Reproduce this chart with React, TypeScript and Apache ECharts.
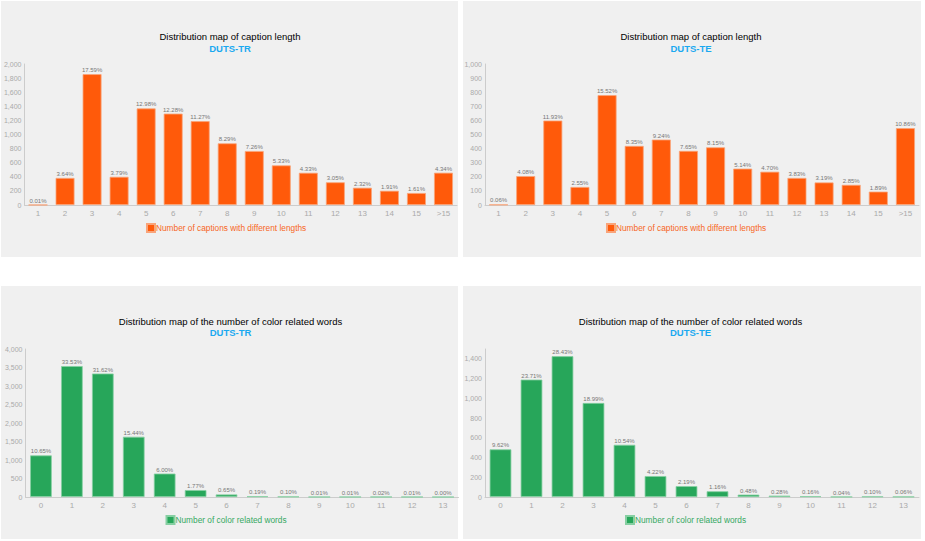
import React, { useEffect, useRef } from "react";
import * as echarts from "echarts";

const lengthCats = ["1", "2", "3", "4", "5", "6", "7", "8", "9", "10", "11", "12", "13", "14", "15", ">15"];
const lenTR = [1, 384, 1856, 400, 1370, 1296, 1189, 875, 766, 562, 457, 322, 245, 202, 170, 458];
const lenTRPct = ["0.01%", "3.64%", "17.59%", "3.79%", "12.98%", "12.28%", "11.27%", "8.29%", "7.26%", "5.33%", "4.33%", "3.05%", "2.32%", "1.91%", "1.61%", "4.34%"];
const lenTE = [3, 205, 599, 128, 779, 419, 464, 384, 409, 258, 236, 192, 160, 143, 95, 545];
const lenTEPct = ["0.06%", "4.08%", "11.93%", "2.55%", "15.52%", "8.35%", "9.24%", "7.65%", "8.15%", "5.14%", "4.70%", "3.83%", "3.19%", "2.85%", "1.89%", "10.86%"];

const colorCats = ["0", "1", "2", "3", "4", "5", "6", "7", "8", "9", "10", "11", "12", "13"];
const colTR = [1124, 3538, 3337, 1629, 633, 187, 69, 20, 11, 1, 1, 2, 1, 0];
const colTRPct = ["10.65%", "33.53%", "31.62%", "15.44%", "6.00%", "1.77%", "0.65%", "0.19%", "0.10%", "0.01%", "0.01%", "0.02%", "0.01%", "0.00%"];
const colTE = [483, 1190, 1427, 953, 529, 212, 110, 58, 24, 14, 8, 2, 5, 3];
const colTEPct = ["9.62%", "23.71%", "28.43%", "18.99%", "10.54%", "4.22%", "2.19%", "1.16%", "0.48%", "0.28%", "0.16%", "0.04%", "0.10%", "0.06%"];

const lenTitle = "Distribution map of caption length";
const colTitle = "Distribution map of the number of color related words";
const lenLegend = "Number of captions with different lengths";
const colLegend = "Number of color related words";

const ORANGE = "#ff5a0a";
const GREEN = "#27a65a";
const FONT = "'Liberation Sans', Arial, sans-serif";

export default function App() {
  const ref = useRef<HTMLDivElement>(null);
  useEffect(() => {
    if (!ref.current) return;
    const chart = echarts.init(ref.current, undefined, { renderer: "svg" });

    const grids = [
      { left: 24.5, top: 64, width: 432.5, height: 141 },
      { left: 485, top: 64, width: 434, height: 141 },
      { left: 25.5, top: 349, width: 433, height: 148 },
      { left: 485, top: 349, width: 434, height: 148 },
    ];
    const yAxes = [
      { max: 2000, interval: 200 },
      { max: 1000, interval: 100 },
      { max: 4000, interval: 500 },
      { max: 1500, interval: 200 },
    ];
    const cats = [lengthCats, lengthCats, colorCats, colorCats];
    const datas = [lenTR, lenTE, colTR, colTE];
    const pcts = [lenTRPct, lenTEPct, colTRPct, colTEPct];
    const names = [lenLegend, lenLegend, colLegend, colLegend];
    const colors = [ORANGE, ORANGE, GREEN, GREEN];
    const borders = ["#f9a47a", "#f9a47a", "#86cfa2", "#86cfa2"];
    const legendTextColors = ["#f7661e", "#f7661e", "#35a862", "#35a862"];

    const titleSpecs = [
      { x: 230, y: 36, sy: 48, text: lenTitle, sub: "DUTS-TR" },
      { x: 691, y: 36, sy: 48, text: lenTitle, sub: "DUTS-TE" },
      { x: 230.5, y: 321, sy: 332.5, text: colTitle, sub: "DUTS-TR" },
      { x: 690.5, y: 321, sy: 332.5, text: colTitle, sub: "DUTS-TE" },
    ];
    const titles: any[] = [];
    titleSpecs.forEach((t) => {
      titles.push({
        text: t.text,
        left: t.x,
        top: t.y - 6,
        textAlign: "center",
        padding: 0,
        textStyle: { fontFamily: FONT, fontSize: 9.5, fontWeight: "normal", color: "#000", lineHeight: 12 },
      });
      titles.push({
        text: t.sub,
        left: t.x,
        top: t.sy - 6,
        textAlign: "center",
        padding: 0,
        textStyle: { fontFamily: FONT, fontSize: 9.5, fontWeight: "bold", color: "#1aa9f0", lineHeight: 12 },
      });
    });

    const legendPos = [
      { left: 146, top: 223 },
      { left: 606, top: 223 },
      { left: 165.5, top: 515 },
      { left: 625, top: 515 },
    ];

    chart.setOption({
      animation: false,
      backgroundColor: "#ffffff",
      title: titles,
      graphic: [
        { type: "rect", shape: { x: 1, y: 1, width: 457, height: 256 }, style: { fill: "#f0f0f0" }, z: -10 },
        { type: "rect", shape: { x: 463, y: 1, width: 458, height: 256 }, style: { fill: "#f0f0f0" }, z: -10 },
        { type: "rect", shape: { x: 1, y: 286, width: 457, height: 253 }, style: { fill: "#f0f0f0" }, z: -10 },
        { type: "rect", shape: { x: 463, y: 286, width: 458, height: 253 }, style: { fill: "#f0f0f0" }, z: -10 },
      ],
      legend: legendPos.map((p, i) => ({
        left: p.left,
        top: p.top,
        padding: 0,
        itemWidth: 8,
        itemHeight: 8,
        icon: "rect",
        selectedMode: false,
        data: [{ name: names[i], itemStyle: { color: colors[i] } }],
        textStyle: { fontFamily: FONT, fontSize: 8.3, color: legendTextColors[i], padding: [0, 0, 0, -4] },
      })),
      grid: grids,
      xAxis: grids.map((_, i) => ({
        type: "category",
        gridIndex: i,
        data: cats[i],
        axisLine: { lineStyle: { color: "#cccccc", width: 1 } },
        axisTick: { show: false },
        axisLabel: { color: "#aaaaaa", fontSize: 8, fontFamily: FONT, margin: 4, interval: 0 },
      })),
      yAxis: grids.map((_, i) => ({
        type: "value",
        gridIndex: i,
        min: 0,
        max: yAxes[i].max,
        interval: yAxes[i].interval,
        axisLine: { show: true, lineStyle: { color: "#cccccc", width: 1 } },
        axisTick: { show: false },
        splitLine: { show: false },
        axisLabel: { color: "#aaaaaa", fontSize: 7, fontFamily: FONT, margin: 3, showMaxLabel: i === 3 ? false : true },
      })),
      series: grids.map((_, i) => ({
        type: "bar",
        name: names[i],
        xAxisIndex: i,
        yAxisIndex: i,
        data: datas[i],
        barCategoryGap: "30%",
        itemStyle: { color: colors[i], borderColor: borders[i], borderWidth: 0.8 },
        label: {
          show: true,
          position: "top",
          distance: 1,
          fontSize: 6,
          fontFamily: FONT,
          color: "#777777",
          formatter: (p: any) => pcts[i][p.dataIndex],
        },
      })),
    });
    return () => chart.dispose();
  }, []);
  return <div ref={ref} style={{ position: "absolute", left: 0, top: 0, width: 925, height: 541 }} />;
}
